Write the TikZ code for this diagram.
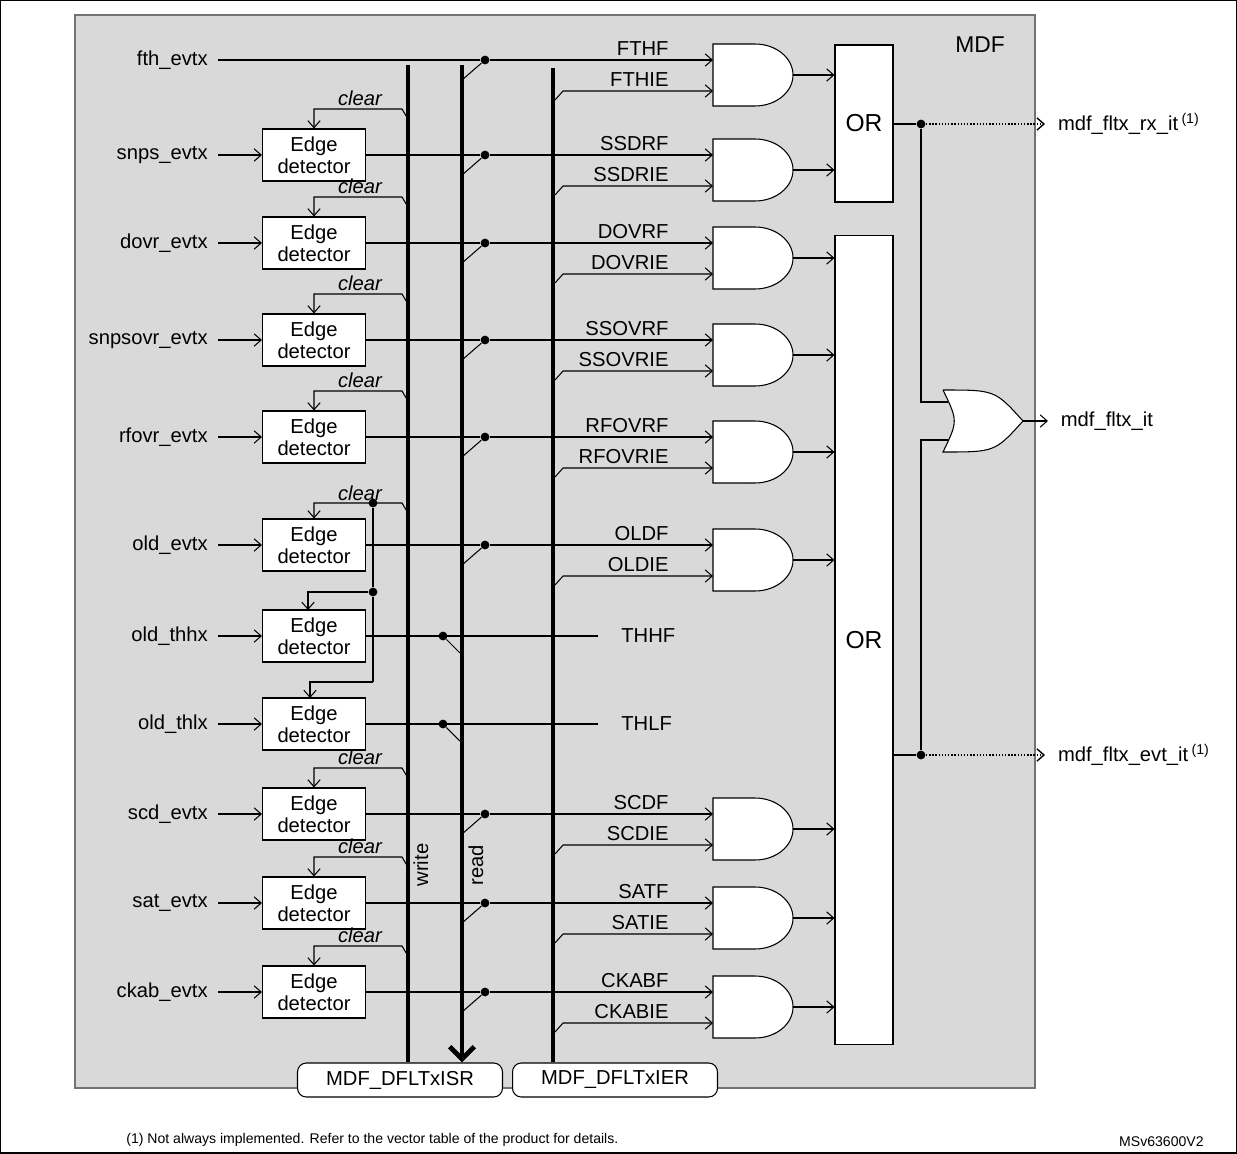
\documentclass[tikz,border=0pt]{standalone}
\usepackage{fontspec}
\setmainfont{Liberation Sans}
\usetikzlibrary{arrows.meta}
\tikzset{
  sig/.style={-{Straight Barb[length=4pt,width=7pt]}},
  edge/.style={draw,fill=white,minimum width=2.06cm,minimum height=1.04cm,align=center,inner sep=0pt,font=\fontsize{11.5}{12.5}\selectfont},
  bus/.style={line width=2.8pt},
  lbl/.style={font=\fontsize{11.5}{13}\selectfont,inner sep=1pt},
  flag/.style={lbl,anchor=south east,xshift=-24pt,yshift=1pt},
  dot/.style={circle,fill,inner sep=0pt,minimum size=5pt},
}
\begin{document}
\begin{tikzpicture}[x=0.02cm,y=-0.02cm,line width=0.6pt]
\useasboundingbox (0,0) rectangle (1237,1153);
\draw[line width=0.8pt] (0,0) rectangle (1237,1153);
\draw[fill=black!15,draw=black!55] (75,15) rectangle (1035,1088);
\node[lbl,font=\fontsize{13}{15}\selectfont] (mdf) at (980,45) {MDF};

% register boxes and buses
\node[draw,rounded corners=5pt,fill=white,minimum width=4.1cm,minimum height=0.68cm,lbl] (isr) at (400,1080) {MDF\_DFLTxISR};
\node[draw,rounded corners=5pt,fill=white,minimum width=4.1cm,minimum height=0.68cm,lbl] (ier) at (615,1080) {MDF\_DFLTxIER};
\coordinate (wtop) at (408,65);
\coordinate (rtop) at (462,65);
\coordinate (etop) at (553,68);
\draw[bus] (wtop) -- (wtop |- isr.north);
\draw[bus,-{Straight Barb[length=7pt,width=14pt]}] (rtop) -- (rtop |- isr.north);
\draw[bus] (etop) -- (etop |- ier.north);
\node[lbl,rotate=90] at (421,865) {write};
\node[lbl,rotate=90] at (476,865) {read};

% OR boxes
\node[draw,fill=white,minimum width=1.16cm,minimum height=3.14cm,lbl,font=\fontsize{14}{16}\selectfont] (orA) at (864,123.5) {OR};
\node[draw,fill=white,minimum width=1.16cm,minimum height=16.2cm,lbl,font=\fontsize{14}{16}\selectfont] (orB) at (864,640) {OR};

% fth row (no edge detector)
\node[lbl,anchor=east] (fth) at (210,60) {fth\_evtx};
\node[dot] (dfth) at (485,60) {};
\draw (fth.east) ++(8,0) -- (dfth);
\draw (rtop |- 0,80) -- (dfth);
\draw[fill=white] (713,44) -- (755,44) arc[start angle=90,end angle=-90,x radius=0.76cm,y radius=0.62cm] -- (713,106) -- cycle;
\coordinate (gfth) at (793,75);
\draw[sig] (dfth) -- (713,60) node[flag,pos=1] {FTHF};
\draw[sig] (555,100) -- (563,91) -- (713,91) node[flag,pos=1] {FTHIE};
\draw[sig] (gfth) -- (gfth -| orA.west);

% rows with edge detector and gate
\foreach \nm/\r/\fl in {snps/155/SSDR,dovr/243/DOVR,snpsovr/340/SSOVR,rfovr/437/RFOVR,old/545/OLD,scd/814/SCD,sat/903/SAT,ckab/992/CKAB}{
  \node[edge] (ed\nm) at (314,\r) {Edge\\detector};
  \node[lbl,anchor=east] (in\nm) at (210,\r) {\nm\_evtx};
  \draw[sig] (in\nm.east) ++(8,0) -- (ed\nm.west);
  \node[dot] (d\nm) at (485,\r) {};
  \draw (ed\nm.east) -- (d\nm);
  \draw (462,\r+20) -- (d\nm);
  \draw[sig] (d\nm) -- (713,\r) node[flag,pos=1] {\fl F};
  \draw[sig] (555,\r+40) -- (563,\r+31) -- (713,\r+31) node[flag,pos=1] {\fl IE};
  \draw[fill=white] (713,\r-16) -- (755,\r-16) arc[start angle=90,end angle=-90,x radius=0.76cm,y radius=0.62cm] -- (713,\r+46) -- cycle;
  \coordinate (g\nm) at (793,\r+15);
}
\draw[sig] (gsnps) -- (gsnps -| orA.west);
\foreach \nm in {dovr,snpsovr,rfovr,old,scd,sat,ckab}
  \draw[sig] (g\nm) -- (g\nm -| orB.west);

% clear lines
\foreach \nm/\r in {snps/155,dovr/243,snpsovr/340,rfovr/437,scd/814,sat/903,ckab/992}{
  \draw[sig] (408,\r-36) -- (402,\r-46) -- (314,\r-46) -- (ed\nm.north);
  \node[lbl,font=\fontsize{11.5}{13}\itshape] at (360,\r-57) {clear};
}
\draw[sig] (408,513) -- (402,503) -- (314,503) -- (edold.north);
\node[lbl,font=\fontsize{11.5}{13}\itshape] at (360,493) {clear};

% threshold rows
\foreach \nm/\r/\fl in {thh/636/THHF,thl/724/THLF}{
  \node[edge] (ed\nm) at (314,\r) {Edge\\detector};
  \node[lbl,anchor=east] (in\nm) at (210,\r) {old\_\nm x};
  \draw[sig] (in\nm.east) ++(8,0) -- (ed\nm.west);
  \node[dot] (d\nm) at (443,\r) {};
  \draw (ed\nm.east) -- (598,\r) node[lbl,right=12pt] {\fl};
  \draw (d\nm) -- (460,\r+17);
}
\node[dot] (cA) at (373,503) {};
\node[dot] (cB) at (373,592) {};
\coordinate (cC) at (373,682);
\draw (cA) -- (cB) -- (cC);
\draw[sig] (cB) -- (308,592) -- (308,610);
\draw[sig] (cC) -- (310,682) -- (310,698);

% outputs
\node[dot] (oA) at (921,124) {};
\node[dot] (oB) at (921,755) {};
\draw (orA.east |- oA) -- (oA);
\draw (orB.east |- oB) -- (oB);
\draw[sig,densely dotted,line width=0.8pt] (oA) -- (1045,124) node[lbl,right=6pt] {mdf\_fltx\_rx\_it\,\textsuperscript{(1)}};
\draw[sig,densely dotted,line width=0.8pt] (oB) -- (1045,755) node[lbl,right=6pt] {mdf\_fltx\_evt\_it\,\textsuperscript{(1)}};
\draw[fill=white] (943,390) .. controls (995,390) .. (1023,421) .. controls (995,452) .. (943,452) .. controls (958,421) .. (943,390);
\coordinate (orgate) at (1023,421);
\draw (oA) -- (921,402) -- (948,402);
\draw (oB) -- (921,440) -- (948,440);
\draw[sig] (orgate) -- (1048,421) node[lbl,right=6pt] {mdf\_fltx\_it};

% footnote
\node[anchor=west,font=\fontsize{8}{9}\selectfont] at (120,1140) {(1) Not always implemented. Refer to the vector table of the product for details.};
\node[anchor=east,font=\fontsize{8}{9}\selectfont] at (1210,1142) {MSv63600V2};
\end{tikzpicture}
\end{document}
